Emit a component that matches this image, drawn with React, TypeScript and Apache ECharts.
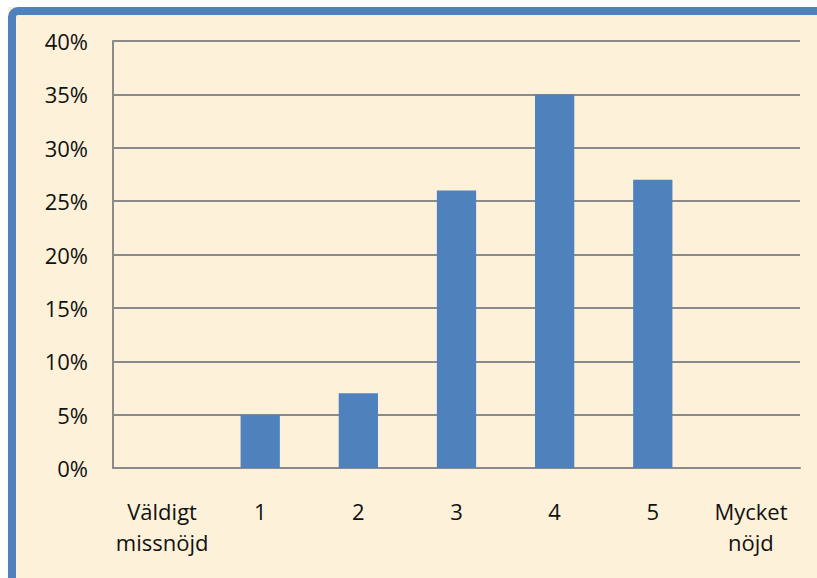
import React, { useEffect, useRef } from "react";
import * as echarts from "echarts";

// Satisfaction scale and share of answers (%)
const categories = ["Väldigt\nmissnöjd", "1", "2", "3", "4", "5", "Mycket\nnöjd"];
const shares = [0, 5, 7, 26, 35, 27, 0];
const yMax = 40;
const yStep = 5;

const GRID_GRAY = "#8a8a8a";
const BAR_BLUE = "#4f81bd";
const PAPER = "#fdf1d9";
const FONT = "'Open Sans', sans-serif";

export default function App() {
  const ref = useRef<HTMLDivElement>(null);

  useEffect(() => {
    if (!ref.current) return;
    const chart = echarts.init(ref.current, undefined, { renderer: "svg" });
    chart.setOption({
      animation: false,
      backgroundColor: PAPER,
      textStyle: { fontFamily: FONT },
      grid: { left: 105, top: 34, right: 17, bottom: 110, containLabel: false },
      graphic: [
        {
          type: "rect",
          left: 0,
          top: 0,
          z: 100,
          shape: { x: 4, y: 4, width: 3000, height: 3000, r: 6 },
          style: { fill: "none", stroke: BAR_BLUE, lineWidth: 8 },
          silent: true,
        },
      ],
      xAxis: {
        type: "category",
        data: categories,
        axisTick: { show: false },
        axisLine: { show: true, lineStyle: { color: GRID_GRAY, width: 2 } },
        axisLabel: {
          interval: 0,
          margin: 27,
          color: "#111",
          fontSize: 22,
          lineHeight: 31,
          fontFamily: FONT,
          align: "center",
        },
      },
      yAxis: {
        type: "value",
        min: 0,
        max: yMax,
        interval: yStep,
        axisLine: { show: true, lineStyle: { color: GRID_GRAY, width: 2 } },
        axisTick: { show: false },
        splitLine: { show: true, lineStyle: { color: GRID_GRAY, width: 2 } },
        axisLabel: {
          margin: 25,
          color: "#111",
          fontSize: 22,
          fontFamily: FONT,
          formatter: "{value}%",
        },
      },
      series: [
        {
          type: "bar",
          data: shares,
          barWidth: "40%",
          itemStyle: { color: BAR_BLUE },
        },
      ],
    });
    return () => chart.dispose();
  }, []);

  return (
    <div
      ref={ref}
      style={{ position: "fixed", left: 8, top: 7, width: 809, height: 571 }}
    />
  );
}
